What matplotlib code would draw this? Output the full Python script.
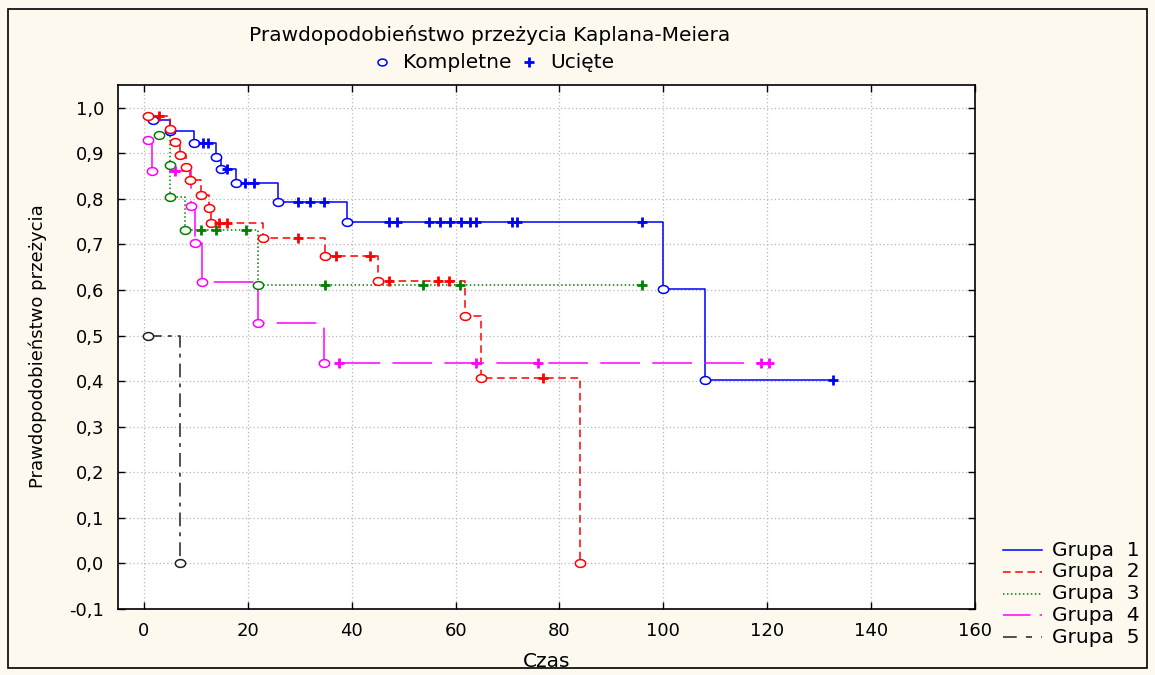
import numpy as np
import matplotlib
matplotlib.use("Agg")
import matplotlib.pyplot as plt
from matplotlib.path import Path
from matplotlib.lines import Line2D
from matplotlib.patches import Rectangle

plt.rcParams['font.family'] = ['DejaVu Sans']

# ---------------- data ----------------
group_labels = ["Grupa  1", "Grupa  2", "Grupa  3", "Grupa  4", "Grupa  5"]

g1_event_t = [1.7, 5.0, 9.7, 13.8, 14.8, 17.7, 25.9, 39.0, 100.0, 108.0]
g1_event_s = [0.974, 0.949, 0.923, 0.893, 0.866, 0.835, 0.794, 0.750, 0.602, 0.402]
g1_cens_t = [11.3, 12.3, 16.0, 19.5, 21.1, 29.7, 32.0, 34.6, 47.1, 48.7, 54.8, 56.9,
             59.0, 61.0, 62.8, 64.0, 70.8, 71.8, 95.9, 132.7]

g2_event_t = [0.8, 5.0, 6.0, 6.9, 8.1, 8.9, 10.9, 12.5, 12.9, 22.9, 34.9, 45.0, 61.8, 64.9, 84.0]
g2_event_s = [0.981, 0.953, 0.926, 0.897, 0.871, 0.842, 0.809, 0.780, 0.747, 0.714,
              0.674, 0.619, 0.544, 0.407, 0.0]
g2_cens_t = [2.8, 14.5, 16.0, 29.7, 37.0, 43.5, 47.1, 56.7, 58.8, 76.8]

g3_event_t = [2.8, 5.0, 5.0, 7.9, 22.0]
g3_event_s = [0.941, 0.875, 0.805, 0.732, 0.610]
g3_cens_t = [11.0, 13.9, 19.7, 34.9, 53.7, 60.9, 95.9]

g4_event_t = [0.8, 1.6, 9.0, 9.9, 11.1, 21.9, 34.6]
g4_event_s = [0.930, 0.862, 0.785, 0.704, 0.617, 0.527, 0.440]
g4_cens_t = [5.9, 37.5, 64.0, 75.8, 118.8, 120.3]

g5_event_t = [0.8, 6.9]
g5_event_s = [0.500, 0.0]
g5_cens_t = []

x_ticks = [0, 20, 40, 60, 80, 100, 120, 140, 160]
y_ticks = [-0.1, 0.0, 0.1, 0.2, 0.3, 0.4, 0.5, 0.6, 0.7, 0.8, 0.9, 1.0]

# ---------------- styling ----------------
W, H = 1155, 675
BG = '#FEF9EF'
colors = ['#0000ff', '#ff0000', '#008000', '#ff00ff', '#202020']
dashes = [None, (5, 3), (1, 1.6), (26, 8), (9, 4, 2.5, 4)]
legend_dashes = [None, (5, 3), (1, 1.6), (18, 6, 4, 6), (9, 6, 4, 6)]
TXT = 14.5

theta = np.linspace(0, 2 * np.pi, 60)
ell = Path(np.column_stack([np.cos(theta), 0.76 * np.sin(theta)]), closed=True)

fig = plt.figure(figsize=(W / 100, H / 100), dpi=100, facecolor=BG)
ax = fig.add_axes([118 / W, 1 - 609 / H, (975 - 118) / W, (609 - 85) / H])
ax.set_facecolor('white')

fig.patches.append(Rectangle((8 / W, 1 - 668 / H), (1147 - 8) / W, (668 - 9) / H,
                             transform=fig.transFigure, fill=False,
                             edgecolor='black', lw=1.2, zorder=0))

groups = [(g1_event_t, g1_event_s, g1_cens_t), (g2_event_t, g2_event_s, g2_cens_t),
          (g3_event_t, g3_event_s, g3_cens_t), (g4_event_t, g4_event_s, g4_cens_t),
          (g5_event_t, g5_event_s, g5_cens_t)]

for i, (et, es, ct) in enumerate(groups):
    et = np.asarray(et, float)
    es = np.asarray(es, float)
    ct = np.asarray(ct, float)
    tend = max(et.max(), ct.max() if ct.size else 0)
    xs = np.concatenate([et, [tend]])
    ys = np.concatenate([es, [es[-1]]])
    ln, = ax.step(xs, ys, where='post', color=colors[i], lw=1.1, zorder=3 + i)
    if dashes[i] is not None:
        ln.set_dashes(dashes[i])
    ax.plot(et, es, linestyle='none', marker=ell, ms=7.4, mfc='white',
            mec=colors[i], mew=1.1, zorder=10 + i)
    if ct.size:
        idx = np.searchsorted(xs, ct, side='right') - 1
        cs = ys[idx]
        ax.plot(ct, cs, linestyle='none', marker='+', ms=7, mec=colors[i],
                mew=2.0, zorder=20 + i)

ax.set_xlim(-5, 160)
ax.set_ylim(-0.1, 1.05)
ax.set_xticks(x_ticks)
ax.set_yticks(y_ticks)
ax.set_xticklabels([str(v) for v in x_ticks])
ax.set_yticklabels([f"{v:.1f}".replace('.', ',') for v in y_ticks])
ax.tick_params(direction='in', length=5, width=1, top=True, right=True,
               labelsize=13, colors='black')
ax.tick_params(axis='x', pad=9)
ax.tick_params(axis='y', pad=10)
for sp in ax.spines.values():
    sp.set_linewidth(1.2)
    sp.set_color('black')
ax.grid(True, color='#b8b8b8', lw=0.9, linestyle=(0, (1, 2)), zorder=0)
ax.set_axisbelow(True)

ax.set_xlabel('Czas', fontsize=TXT)
ax.xaxis.set_label_coords(0.5, -0.083)
ax.set_ylabel('Prawdopodobieństwo przeżycia', fontsize=13)
ax.yaxis.set_label_coords(-0.083, 0.502)

fig.text(490 / W, 1 - 35 / H, 'Prawdopodobieństwo przeżycia Kaplana-Meiera',
         ha='center', va='center', fontsize=TXT)

# top legend: complete / censored markers
fig.add_artist(Line2D([382 / W], [1 - 62 / H], transform=fig.transFigure,
                      linestyle='none', marker=ell, ms=6.5, mfc='white',
                      mec=colors[0], mew=1.1))
fig.text(403 / W, 1 - 63 / H, 'Kompletne', ha='left', va='center', fontsize=TXT)
fig.add_artist(Line2D([529 / W], [1 - 62 / H], transform=fig.transFigure,
                      linestyle='none', marker='+', ms=7, mec=colors[0], mew=2))
fig.text(550 / W, 1 - 63 / H, 'Ucięte', ha='left', va='center', fontsize=TXT)

# group legend
row_y = [550, 571.8, 593.6, 615.4, 637.2]
for i, lab in enumerate(group_labels):
    yy = 1 - row_y[i] / H
    ln = Line2D([1003 / W, 1042 / W], [yy, yy], transform=fig.transFigure,
                color=colors[i], lw=1.1)
    if legend_dashes[i] is not None:
        ln.set_dashes(legend_dashes[i])
    fig.add_artist(ln)
    fig.text(1052 / W, yy, lab, ha='left', va='center', fontsize=TXT)

fig.savefig('out.png', dpi=100, facecolor=BG)
